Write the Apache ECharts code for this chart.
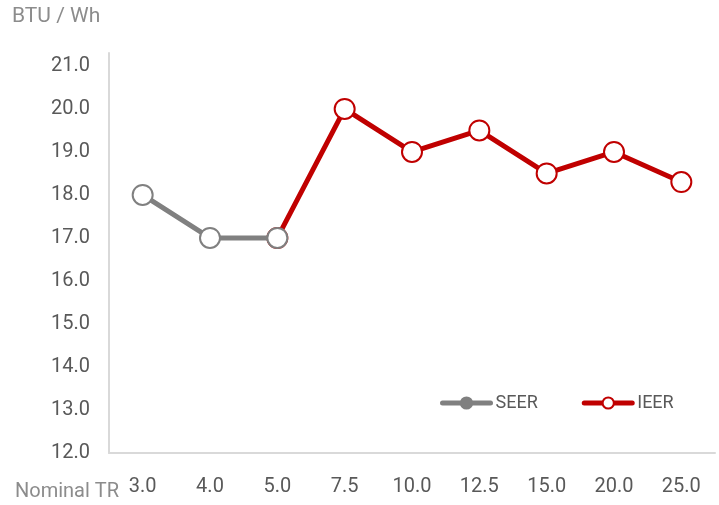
<!DOCTYPE html>
<html>
<head>
<meta charset="utf-8">
<script src="https://cdn.jsdelivr.net/npm/echarts@6/dist/echarts.min.js"></script>
<style>
html, body { margin: 0; padding: 0; background: #fff; }
#chart { width: 719px; height: 505px; }
</style>
</head>
<body>
<div id="chart"></div>
<script>
var categories = ['3.0', '4.0', '5.0', '7.5', '10.0', '12.5', '15.0', '20.0', '25.0'];
var seer = [18, 17, 17, null, null, null, null, null, null];
var ieer = [null, null, 17, 20, 19, 19.5, 18.5, 19, 18.3];

var chart = echarts.init(document.getElementById('chart'));
var font = 'Roboto';

option = {
    animation: false,
    textStyle: { fontFamily: font },
    grid: { left: 109, right: 4, top: 53, bottom: 52 },
    graphic: [
        { type: 'text', left: 12, top: 6, style: { text: 'BTU / Wh', fill: '#8c8c8c', fontSize: 21, fontFamily: font } },
        { type: 'text', left: 15, top: 482, style: { text: 'Nominal TR', fill: '#8c8c8c', fontSize: 20, fontFamily: font } }
    ],
    legend: {
        left: 435,
        top: 389,
        itemWidth: 48,
        itemHeight: 14,
        itemGap: 44,
        textStyle: { color: '#595959', fontSize: 18, fontFamily: font },
        data: [
            {
                name: 'SEER',
                itemStyle: { color: '#808080', borderColor: '#808080' },
                lineStyle: { color: '#808080', width: 5, cap: 'round' }
            },
            {
                name: 'IEER',
                itemStyle: { color: '#ffffff', borderColor: '#c00000', borderWidth: 2 },
                lineStyle: { color: '#c00000', width: 5, cap: 'round' }
            }
        ]
    },
    xAxis: {
        type: 'category',
        data: categories,
        boundaryGap: true,
        axisLine: { lineStyle: { color: '#d9d9d9', width: 2 } },
        axisTick: { show: false },
        axisLabel: { color: '#595959', fontSize: 20, margin: 24, fontFamily: font }
    },
    yAxis: {
        type: 'value',
        min: 12,
        max: 21.3,
        interval: 1,
        axisLine: { show: true, lineStyle: { color: '#d9d9d9', width: 2 } },
        axisTick: { show: false },
        splitLine: { show: false },
        axisLabel: {
            color: '#595959', fontSize: 20, margin: 19, fontFamily: font,
            showMaxLabel: false,
            formatter: function (v) { return v.toFixed(1); }
        }
    },
    series: [
        {
            name: 'SEER',
            type: 'line',
            data: seer,
            z: 3,
            symbol: 'circle',
            symbolSize: 20,
            showAllSymbol: true,
            lineStyle: { color: '#808080', width: 5 },
            itemStyle: { color: '#ffffff', borderColor: '#808080', borderWidth: 2 }
        },
        {
            name: 'IEER',
            type: 'line',
            data: ieer,
            z: 2,
            symbol: 'circle',
            symbolSize: 20,
            showAllSymbol: true,
            lineStyle: { color: '#c00000', width: 5 },
            itemStyle: { color: '#ffffff', borderColor: '#c00000', borderWidth: 2 }
        }
    ]
};
chart.setOption(option);
</script>
</body>
</html>
